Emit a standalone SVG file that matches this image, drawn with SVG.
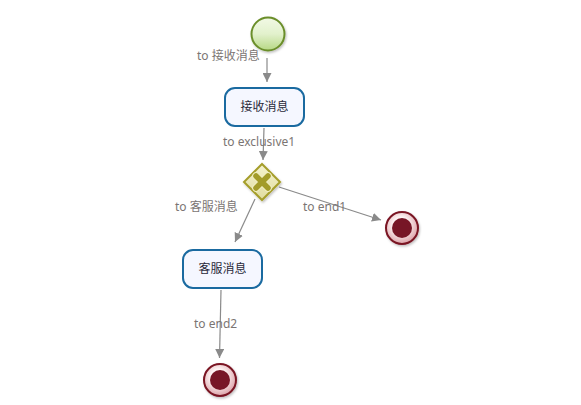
<svg xmlns="http://www.w3.org/2000/svg" width="581" height="405" viewBox="0 0 581 405">
<style>
.task{fill:#f5f7ff;stroke:#1a6aa0;stroke-width:2}
.tt{font-family:"Noto Sans CJK SC","Noto Sans",sans-serif;font-size:12px;fill:#2a2a3a;text-anchor:middle}
.lbl{font-family:"Noto Sans","Noto Sans CJK SC",sans-serif;font-size:12px;fill:#7b7573}
.edge{stroke:#8a8a8a;stroke-width:1.2;fill:none;marker-end:url(#arr)}
.endo{fill:url(#gEnd);stroke:#7a1424;stroke-width:2}
.endi{fill:#771626}
</style>
<defs>
<marker id="arr" viewBox="0 0 10 10" refX="10" refY="5" markerWidth="9" markerHeight="9" markerUnits="userSpaceOnUse" orient="auto">
<path d="M0,0 L10,5 L0,10 z" fill="#8a8a8a"/>
</marker>
<linearGradient id="gStart" x1="0" y1="0" x2="0" y2="1">
<stop offset="0" stop-color="#f2f9e6"/>
<stop offset="0.5" stop-color="#e2f1cc"/>
<stop offset="1" stop-color="#b6d884"/>
</linearGradient>
<radialGradient id="gEnd" cx="0.45" cy="0.4" r="0.6">
<stop offset="0.4" stop-color="#fdf3f3"/>
<stop offset="1" stop-color="#dca2a8"/>
</radialGradient>
<linearGradient id="gGw" x1="0" y1="0" x2="0" y2="1">
<stop offset="0" stop-color="#f5f3cf"/>
<stop offset="1" stop-color="#e0dca0"/>
</linearGradient>
<filter id="sh" x="-30%" y="-30%" width="160%" height="160%">
<feDropShadow dx="1" dy="1.5" stdDeviation="1" flood-color="#000" flood-opacity="0.25"/>
</filter>
</defs>
<g id="connectors">
<line class="edge" x1="267" y1="58" x2="267" y2="82"/>
<line class="edge" x1="264" y1="128" x2="263" y2="160"/>
<line class="edge" x1="279" y1="187" x2="381" y2="220"/>
<line class="edge" x1="255" y1="199" x2="235" y2="242"/>
<line class="edge" x1="221" y1="290" x2="219.5" y2="358"/>
<text class="lbl" x="197" y="60">to 接收消息</text>
<text class="lbl" x="223" y="146">to exclusive1</text>
<text class="lbl" x="175" y="211">to 客服消息</text>
<text class="lbl" x="303" y="211">to end1</text>
<text class="lbl" x="194" y="328">to end2</text>
</g>
<g id="start">
<circle cx="268" cy="34" r="16.5" fill="url(#gStart)" stroke="#6b8e2a" stroke-width="2" filter="url(#sh)"/>
</g>
<g id="task1">
<rect class="task" x="225" y="88" width="79" height="38" rx="10"/>
<text class="tt" x="264.5" y="111">接收消息</text>
</g>
<g id="exclusive1">
<path d="M262,164 L280,182 L262,200 L244,182 Z" fill="url(#gGw)" stroke="#a59e2c" stroke-width="2" filter="url(#sh)"/>
<path d="M256,176 L268,188 M268,176 L256,188" stroke="#f0eec0" stroke-width="7.5" stroke-linecap="round"/>
<path d="M256,176 L268,188 M268,176 L256,188" stroke="#a39c2a" stroke-width="5.5" stroke-linecap="round"/>
</g>
<g id="task2">
<rect class="task" x="183" y="250" width="79" height="38" rx="10"/>
<text class="tt" x="222.5" y="273">客服消息</text>
</g>
<g id="end1">
<circle class="endo" cx="402" cy="228" r="16" filter="url(#sh)"/>
<circle class="endi" cx="402" cy="228" r="10"/>
</g>
<g id="end2">
<circle class="endo" cx="220" cy="380" r="16" filter="url(#sh)"/>
<circle class="endi" cx="220" cy="380" r="10"/>
</g>
</svg>
